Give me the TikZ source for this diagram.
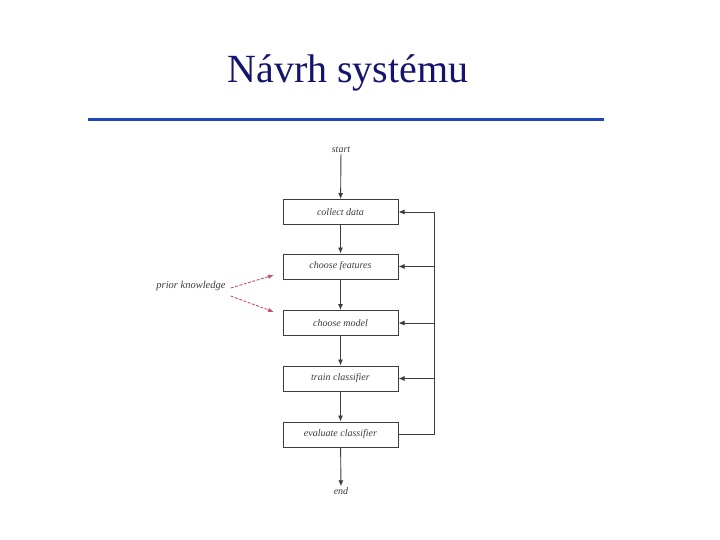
\documentclass[tikz,border=0pt]{standalone}
\usepackage{fontspec}
\setmainfont{Liberation Serif}
\usetikzlibrary{arrows.meta}
\definecolor{titleblue}{RGB}{20,20,110}
\definecolor{rulerblue}{RGB}{30,70,190}
\definecolor{linegray}{RGB}{60,60,60}
\definecolor{pinkred}{RGB}{200,80,110}
\tikzset{
  stepbox/.style={draw=linegray, line width=1pt, minimum width=115pt, minimum height=25pt, inner sep=0pt,
    font=\fontsize{10}{11}\selectfont\itshape, text=linegray},
  lbl/.style={font=\fontsize{10}{11}\selectfont\itshape, text=linegray, inner sep=1pt},
  flow/.style={draw=linegray, line width=0.9pt, -{Latex[length=6pt,width=5pt]}},
  fb/.style={draw=linegray, line width=0.9pt},
  prior/.style={draw=pinkred, line width=0.9pt, dash pattern=on 3pt off 1.5pt, -{Latex[length=6pt,width=4.5pt]}}
}
\begin{document}
\begin{tikzpicture}[x=1pt,y=-1pt]
\useasboundingbox (0,0) rectangle (720,540);
\node[text=titleblue, font=\fontsize{40}{44}\selectfont] (title) at (348,73) {Návrh systému};
\coordinate (rl) at (88,120);
\coordinate (rr) at (604,120);
\draw[rulerblue, line width=3pt] (rl) -- (rr);

\node[lbl] (start) at (341,150) {start};
\node[stepbox] (b1) at (340.5,212) {collect data};
\node[stepbox] (b2) at (340.5,266.5) {choose features};
\node[stepbox] (b3) at (340.5,323) {choose model};
\node[stepbox] (b4) at (340.5,378.5) {train classifier};
\node[stepbox] (b5) at (340.5,434.5) {evaluate classifier};
\node[lbl] (end) at (341,491) {end};

\draw[flow] (start) -- (b1);
\draw[flow] (b1) -- (b2);
\draw[flow] (b2) -- (b3);
\draw[flow] (b3) -- (b4);
\draw[flow] (b4) -- (b5);
\draw[flow] (b5) -- (end);

\coordinate (fbtop) at (434,212);
\coordinate (fbbot) at (434,434.5);
\draw[fb] (b5.east) -- (fbbot) -- (fbtop);
\draw[flow] (fbtop) -- (b1.east);
\draw[flow] (434,266.5) -- (b2.east);
\draw[flow] (434,323) -- (b3.east);
\draw[flow] (434,378.5) -- (b4.east);

\node[lbl, font=\fontsize{10.5}{11}\selectfont\itshape] (prior) at (191,286) {prior knowledge};
\draw[prior] (prior.east) ++(4,2) -- (274,275);
\draw[prior] (prior.east) ++(4,10) -- (274,312);
\end{tikzpicture}
\end{document}
